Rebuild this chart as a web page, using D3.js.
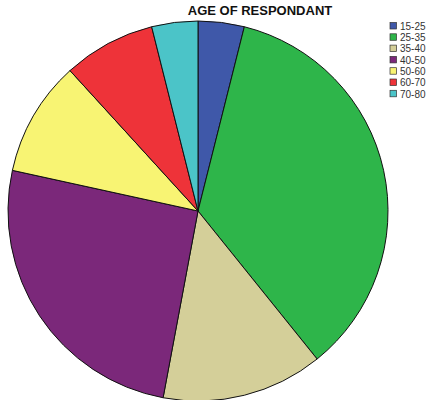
<!DOCTYPE html>
<html>
<head>
<meta charset="utf-8">
<script src="https://cdn.jsdelivr.net/npm/d3@7"></script>
<style>
  body { margin: 0; background: #fff; }
  svg { display: block; }
</style>
</head>
<body>
<figure id="pie" style="margin:0"></figure>
<script>
// age groups and respondent counts
const categories = ["15-25", "25-35", "35-40", "40-50", "50-60", "60-70", "70-80"];
const counts = [2, 18, 7, 13, 5, 4, 2];
const colors = ["#3f58a9", "#2eb54a", "#d4cf99", "#7b287a", "#f8f473", "#ee3339", "#4bc4c8"];

const width = 427, height = 400;
const cx = 198, cy = 211, radius = 190;

const svg = d3.select("figure#pie")
  .append("svg")
  .attr("width", width)
  .attr("height", height);

const data = categories.map((c, i) => ({ cat: c, value: counts[i] }));

const pie = d3.pie().value(d => d.value).sort(null);
const arc = d3.arc().innerRadius(0).outerRadius(radius);
const color = d3.scaleOrdinal().domain(categories).range(colors);

const g = svg.append("g")
  .attr("transform", "translate(" + cx + "," + cy + ")");

g.selectAll("path")
  .data(pie(data))
  .enter()
  .append("path")
  .attr("d", arc)
  .attr("fill", d => color(d.data.cat))
  .attr("stroke", "#111")
  .attr("stroke-width", 1)
  .attr("stroke-linejoin", "round");

// title
svg.append("text")
  .attr("x", 260)
  .attr("y", 15)
  .attr("text-anchor", "middle")
  .style("font-family", "'Liberation Sans', Arial, sans-serif")
  .style("font-weight", "bold")
  .style("font-size", "13px")
  .style("fill", "#111")
  .text("AGE OF RESPONDANT");

// legend
const legend = svg.append("g").attr("transform", "translate(390,22.5)");
const item = legend.selectAll("g")
  .data(categories)
  .enter()
  .append("g")
  .attr("transform", (d, i) => "translate(0," + (i * 11.3) + ")");

item.append("rect")
  .attr("width", 6.5)
  .attr("height", 6.5)
  .attr("fill", d => color(d))
  .attr("stroke", "#333")
  .attr("stroke-width", 0.7);

item.append("text")
  .attr("x", 10)
  .attr("y", 7.2)
  .style("font-family", "'Liberation Sans', Arial, sans-serif")
  .style("font-size", "10px")
  .style("fill", "#333")
  .text(d => d);
</script>
</body>
</html>
